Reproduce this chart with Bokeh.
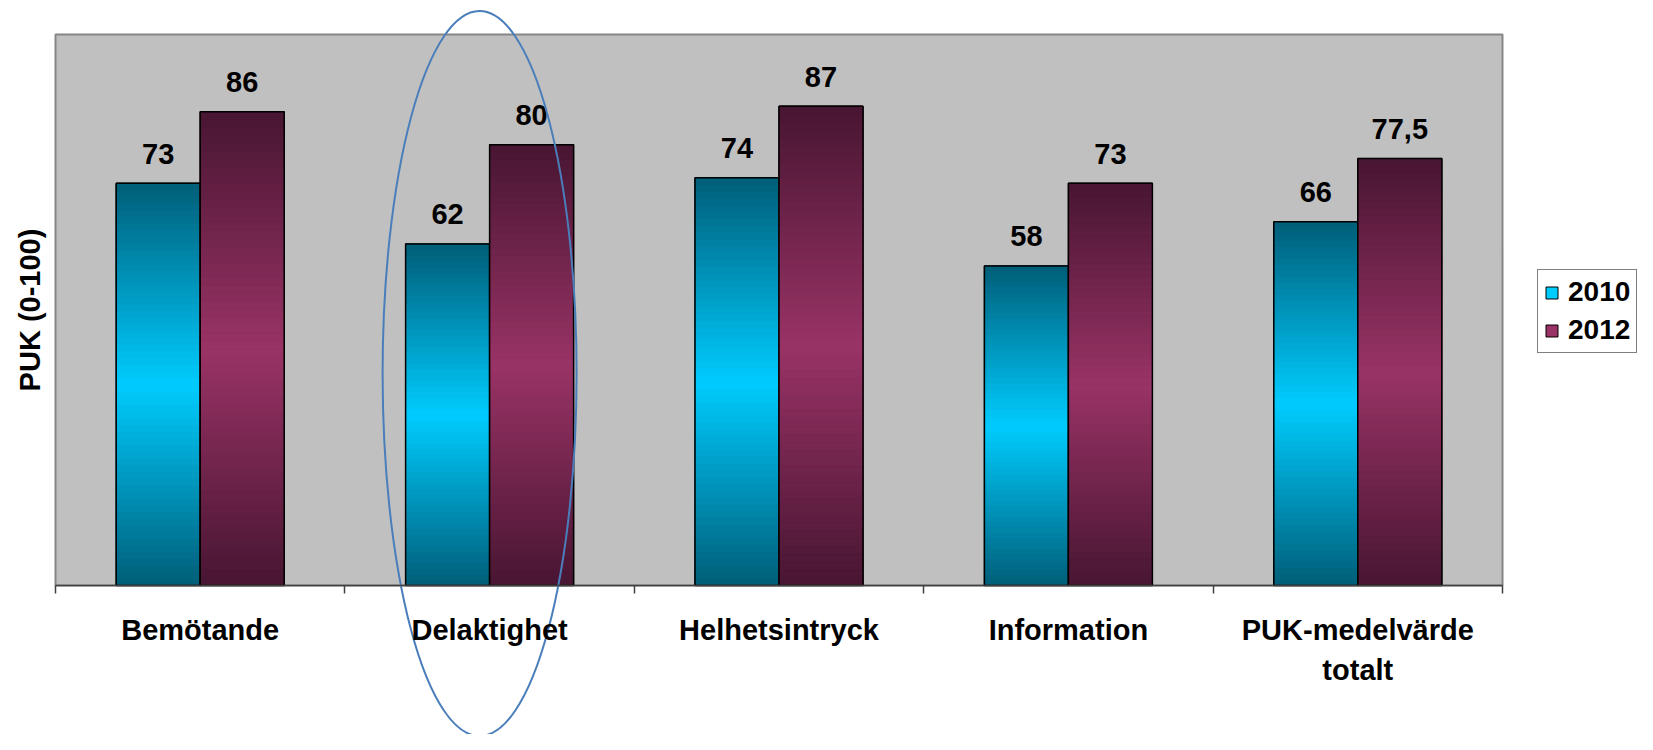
import math
from bokeh.plotting import figure
from bokeh.models import Range1d, FixedTicker, ColumnDataSource, Legend, LegendItem
from bokeh.core.properties import value
from bokeh.embed import file_html
from bokeh.resources import INLINE

# ---------------- data ----------------
categories = ["Bemötande", "Delaktighet", "Helhetsintryck", "Information", "PUK-medelvärde\ntotalt"]
series_names = ["2010", "2012"]
values_2010 = [73, 62, 74, 58, 66]
values_2012 = [86, 80, 87, 73, 77.5]
y_title = "PUK (0-100)"
highlight_category = "Delaktighet"

# ---------------- styles / layout ----------------
FONT = "Liberation Sans"
W, H = 1637, 734
PL, PR, PT, PB = 55, 1502, 34, 585          # plot area in canvas pixels
n = len(categories)
cat_px = (PR - PL) / n
ppu = (PB - PT) / 100.0
x_start = -0.5 - PL / cat_px
x_end = x_start + W / cat_px
y_end = PB / ppu
y_start = -(H - PB) / ppu
LABEL_GAP_PX = 29.5     # value label baseline above bar top

BAR_W = 84 / cat_px
offsets = [-BAR_W / 2, BAR_W / 2]
dark_cols = [(0, 94, 120), (72, 22, 50)]
light_cols = [(0, 204, 255), (153, 51, 102)]
N_SLICES = 60

p = figure(width=W, height=H, x_range=Range1d(x_start, x_end), y_range=Range1d(y_start, y_end),
           output_backend="svg", toolbar_location=None, y_axis_type=None, min_border=0)
p.min_border_left = p.min_border_right = p.min_border_top = p.min_border_bottom = 0
p.grid.visible = False
p.outline_line_color = None
p.background_fill_color = "white"
p.border_fill_color = "white"

# plot area background
p.quad(left=[-0.5], right=[n - 0.5], bottom=[0], top=[100],
       fill_color="#C0C0C0", line_color="#868686", line_width=2)

def hexcol(c):
    return "#%02x%02x%02x" % tuple(int(round(v)) for v in c)

series_values = [values_2010, values_2012]
legend_renderers = []
for s, vals in enumerate(series_values):
    xs = [i + offsets[s] for i in range(n)]
    # base bars (also used for the legend swatch)
    base = p.quad(left=[x - BAR_W / 2 for x in xs], right=[x + BAR_W / 2 for x in xs],
                  bottom=[0] * n, top=vals, fill_color=hexcol(light_cols[s]),
                  line_color="black", line_width=1)
    legend_renderers.append(base)
    # gradient slices
    L, R, B, T, C = [], [], [], [], []
    for i, v in enumerate(vals):
        xc = xs[i]
        for k in range(N_SLICES):
            mid = (k + 0.5) / N_SLICES
            t = 1 - abs(mid - 0.5) * 2
            col = [dark_cols[s][j] + (light_cols[s][j] - dark_cols[s][j]) * t for j in range(3)]
            L.append(xc - BAR_W / 2); R.append(xc + BAR_W / 2)
            B.append(v * k / N_SLICES); T.append(v * (k + 1) / N_SLICES)
            C.append(hexcol(col))
    src = ColumnDataSource(dict(left=L, right=R, bottom=B, top=T, color=C))
    p.quad(left="left", right="right", bottom="bottom", top="top", source=src,
           fill_color="color", line_color="color", line_width=1)
    # outline
    p.quad(left=[x - BAR_W / 2 for x in xs], right=[x + BAR_W / 2 for x in xs],
           bottom=[0] * n, top=vals, fill_color=None, line_color="black", line_width=1.5)
    # value labels
    lab = ["{:g}".format(v).replace(".", ",") for v in vals]
    p.text(x=xs, y=[v + LABEL_GAP_PX / ppu for v in vals], text=lab, text_align="center",
           text_baseline="alphabetic", text_font=value(FONT), text_font_style="bold",
           text_font_size="29px", text_color="black")

# x axis
xa = p.xaxis[0]
xa.fixed_location = 0
xa.bounds = (-0.5, n - 0.5)
xa.ticker = FixedTicker(ticks=list(range(n)), minor_ticks=[i - 0.5 for i in range(n + 1)])
xa.major_label_overrides = {i: c for i, c in enumerate(categories)}
xa.major_tick_in = 0
xa.major_tick_out = 0
xa.minor_tick_in = 0
xa.minor_tick_out = 8
xa.minor_tick_line_color = "#404040"
xa.minor_tick_line_width = 1.5
xa.axis_line_color = "#404040"
xa.axis_line_width = 1.5
xa.major_label_standoff = 20
xa.major_label_text_font = FONT
xa.major_label_text_font_style = "bold"
xa.major_label_text_font_size = "29px"
xa.major_label_text_line_height = 1.27
xa.major_label_text_color = "black"

# y title
p.text(x=[-0.5 + (29.5 - PL) / cat_px], y=[50], text=[y_title], angle=math.pi / 2,
       text_align="center", text_baseline="alphabetic", text_font=value(FONT),
       text_font_style="bold", text_font_size="29px", text_color="black")

# legend
legend = Legend(items=[LegendItem(label=series_names[s], renderers=[legend_renderers[s]])
                       for s in range(2)],
                location=(1537, H - 353), orientation="vertical",
                border_line_color="black", border_line_width=1,
                background_fill_color="white", background_fill_alpha=1.0,
                padding=6, spacing=6, margin=0, glyph_width=15, glyph_height=15,
                label_standoff=9, label_text_font=FONT, label_text_font_size="28px",
                label_text_font_style="bold", label_text_color="black")
p.add_layout(legend)

# highlight ellipse
hi = categories.index(highlight_category)
p.ellipse(x=[hi - 10 / cat_px], y=[(PB - 373) / ppu], width=194, height=725,
          width_units="screen", height_units="screen",
          fill_color=None, line_color="#4A7EBB", line_width=2)

open("out.html", "w").write(file_html(p, INLINE))
